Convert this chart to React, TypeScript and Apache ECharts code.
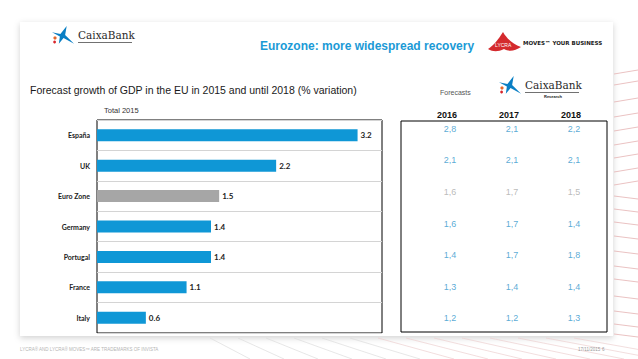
import React, { useEffect, useRef } from "react";
import * as echarts from "echarts";

const countries = ["España", "UK", "Euro Zone", "Germany", "Portugal", "France", "Italy"];
const gdp2015 = [3.2, 2.2, 1.5, 1.4, 1.4, 1.1, 0.6];
const years = ["2016", "2017", "2018"];
const f2016 = [2.8, 2.1, 1.6, 1.6, 1.4, 1.3, 1.2];
const f2017 = [2.1, 2.1, 1.7, 1.7, 1.7, 1.4, 1.2];
const f2018 = [2.2, 2.1, 1.5, 1.4, 1.8, 1.4, 1.3];
const highlight = "Euro Zone";

const BLUE = "#0f97d6";
const GRAY = "#a6a6a6";

let registered = false;
function registerShapes() {
  if (registered) return;
  registered = true;
  echarts.graphic.registerShape(
    "caixaStar",
    echarts.graphic.extendPath(
      "M0,6 L8,7.5 L14,0 L12.5,8.5 L21,17 L11,11.5 L6.5,17 L7.5,10 Z",
      {}
    )
  );
  echarts.graphic.registerShape(
    "lycraBlob",
    echarts.graphic.extendPath(
      "M0,17 C6,13 10,8 15,0 C19,7 25,12 33,15 C27,19 21,20 16,17 C10,20 5,20 0,17 Z",
      {}
    )
  );
}

function caixaLogo(x: number, y: number, research: boolean) {
  const els: any[] = [
    { type: "caixaStar", x, y, scaleX: 1.05, scaleY: 1.05, style: { fill: "#0a7fc4" } },
    { type: "circle", shape: { cx: x + 3, cy: y + 12, r: 1.6 }, style: { fill: "#e2662b" } },
    { type: "circle", shape: { cx: x + 2.6, cy: y + 16, r: 1.4 }, style: { fill: "#d9262c" } },
    {
      type: "text",
      x: x + 26,
      y: y + 9,
      style: { text: "CaixaBank", font: "10.5px 'DejaVu Serif', serif", fill: "#2a2a2a", verticalAlign: "middle" },
    },
    { type: "line", shape: { x1: x + 26, y1: y + 16.5, x2: x + 80, y2: y + 16.5 }, style: { stroke: "#333", lineWidth: 0.7 } },
  ];
  if (research) {
    els.push({
      type: "text",
      x: x + 45,
      y: y + 20.5,
      style: { text: "Research", font: "bold 4px 'Liberation Sans', sans-serif", fill: "#222", verticalAlign: "middle" },
    });
  }
  return els;
}

export default function App() {
  const ref = useRef<HTMLDivElement>(null);
  useEffect(() => {
    if (!ref.current) return;
    registerShapes();
    const chart = echarts.init(ref.current, null, { renderer: "svg" });

    const tableData: any[] = [];
    [f2016, f2017, f2018].forEach((arr, yi) => {
      arr.forEach((v, ci) => {
        tableData.push({
          value: [years[yi], countries[ci], v],
          label: { color: countries[ci] === highlight ? "#a9a9a9" : "#2f95cb" },
        });
      });
    });

    const redLines: any[] = [];
    const ry = [72, 83, 100, 115, 129, 143, 156, 170, 183, 197, 210, 223, 237, 252, 267, 280, 297, 312, 325, 335];
    ry.forEach((y, i) => {
      redLines.push({
        type: "line",
        z: -5,
        shape: { x1: 614, y1: y + (i < 9 ? 2 : -1), x2: 638, y2: y + (i < 9 ? -2 : 2) },
        style: { stroke: "#e4b3b3", lineWidth: 0.8 },
      });
    });
    const bottomLines: any[] = [];
    for (let i = 0; i < 14; i++) {
      bottomLines.push({
        type: "line",
        z: -5,
        shape: { x1: 210 + i * 28, y1: 338, x2: 250 + i * 34, y2: 359 },
        style: { stroke: i < 6 ? "#dddddd" : "#ecd0d0", lineWidth: 0.7 },
      });
    }

    chart.setOption({
      animation: false,
      backgroundColor: "#ffffff",
      grid: [
        { left: 97, top: 120, width: 285, height: 213, show: true, borderColor: "#000", borderWidth: 1, backgroundColor: "transparent" },
        { left: 419, top: 113, width: 186, height: 221 },
      ],
      xAxis: [
        { gridIndex: 0, type: "value", min: 0, max: 3.5, show: false },
        {
          gridIndex: 1,
          type: "category",
          data: years,
          position: "top",
          offset: -8,
          axisLine: { show: false },
          axisTick: { show: false },
          axisLabel: { margin: 2, fontSize: 9, fontWeight: "bold", color: "#111", fontFamily: "'Liberation Sans', Arial, sans-serif", padding: [0, 6, 0, 0] },
        },
      ],
      yAxis: [
        {
          gridIndex: 0,
          type: "category",
          data: countries,
          inverse: true,
          axisLine: { show: false },
          axisTick: { show: false },
          splitLine: { show: true, lineStyle: { color: "#d4d4d4", width: 1 } },
          axisLabel: { margin: 7, fontSize: 7, fontWeight: "bold", color: "#222", fontFamily: "Lato, sans-serif" },
        },
        {
          gridIndex: 1,
          type: "category",
          data: countries,
          inverse: true,
          axisLine: { show: false },
          axisTick: { show: false },
          axisLabel: { show: false },
          splitLine: { show: false },
        },
      ],
      series: [
        {
          type: "bar",
          xAxisIndex: 0,
          yAxisIndex: 0,
          barWidth: 12,
          data: gdp2015.map((v, i) => ({
            value: v,
            itemStyle: { color: countries[i] === highlight ? GRAY : BLUE },
          })),
          label: {
            show: true,
            position: "right",
            distance: 3,
            fontSize: 8,
            fontWeight: "bold",
            color: "#222",
            fontFamily: "Lato, sans-serif",
            formatter: (p: any) => Number(p.value).toFixed(1),
          },
        },
        {
          type: "scatter",
          xAxisIndex: 1,
          yAxisIndex: 1,
          symbolSize: 2,
          itemStyle: { color: "rgba(255,255,255,0)" },
          data: tableData,
          label: {
            show: true,
            position: "inside",
            fontSize: 9,
            fontFamily: "'Liberation Sans', Arial, sans-serif",
            formatter: (p: any) => Number(p.value[2]).toFixed(1).replace(".", ","),
          },
        },
      ],
      graphic: [
        {
          type: "rect",
          z: -10,
          shape: { x: 20, y: 22, width: 593, height: 314 },
          style: { fill: "#ffffff", shadowBlur: 6, shadowColor: "rgba(0,0,0,0.18)", shadowOffsetY: 2 },
        },
        ...redLines,
        ...bottomLines,
        { type: "rect", shape: { x: 401, y: 121, width: 206, height: 211 }, style: { fill: "transparent", stroke: "#000", lineWidth: 1 } },
        {
          type: "text",
          x: 260,
          y: 46,
          style: { text: "Eurozone: more widespread recovery", font: "bold 12px 'Liberation Sans', Arial, sans-serif", fill: "#1b9ad6", verticalAlign: "middle" },
        },
        {
          type: "text",
          x: 30,
          y: 90,
          style: { text: "Forecast growth of GDP in the EU in 2015 and until 2018 (% variation)", font: "10.5px 'Liberation Sans', Arial, sans-serif", fill: "#1a1a1a", verticalAlign: "middle" },
        },
        {
          type: "text",
          x: 104,
          y: 110,
          style: { text: "Total 2015", font: "7.5px 'Liberation Sans', Arial, sans-serif", fill: "#333", verticalAlign: "middle" },
        },
        {
          type: "text",
          x: 440,
          y: 92,
          style: { text: "Forecasts", font: "7px 'Liberation Sans', Arial, sans-serif", fill: "#555", verticalAlign: "middle" },
        },
        ...caixaLogo(52, 26, false),
        ...caixaLogo(499, 76, true),
        { type: "lycraBlob", x: 488, y: 32, scaleX: 1, scaleY: 1, style: { fill: "#d42a2e" } },
        {
          type: "text",
          x: 495,
          y: 45,
          style: { text: "LYCRA", font: "5px 'Liberation Sans', sans-serif", fill: "#ffffff", verticalAlign: "middle" },
        },
        {
          type: "text",
          x: 523,
          y: 43,
          style: { text: "MOVES™ YOUR BUSINESS", font: "bold 5.5px 'DejaVu Sans', sans-serif", fill: "#222", verticalAlign: "middle" },
        },
        {
          type: "text",
          x: 20,
          y: 349,
          style: { text: "LYCRA® AND LYCRA® MOVES™ ARE TRADEMARKS OF INVISTA", font: "4.5px 'Liberation Sans', sans-serif", fill: "#b5b5b5", verticalAlign: "middle" },
        },
        {
          type: "text",
          x: 578,
          y: 349,
          style: { text: "17/11/2015", font: "4.5px 'Liberation Sans', sans-serif", fill: "#999", verticalAlign: "middle" },
        },
        {
          type: "text",
          x: 602,
          y: 349,
          style: { text: "6", font: "4.5px 'Liberation Sans', sans-serif", fill: "#999", verticalAlign: "middle" },
        },
      ],
    });
    return () => chart.dispose();
  }, []);
  return <div ref={ref} style={{ position: "fixed", left: 0, top: 0, width: 638, height: 359 }} />;
}
